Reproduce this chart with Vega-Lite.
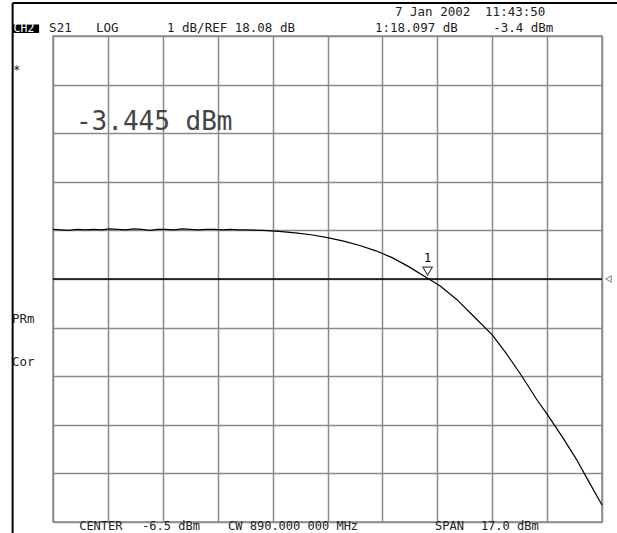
{
  "$schema": "https://vega.github.io/schema/vega-lite/v6.json",
  "width": 549,
  "height": 486,
  "autosize": "none",
  "padding": {"left": 53, "top": 36, "right": 15, "bottom": 11},
  "background": "white",
  "config": {
    "view": {"stroke": "#8a8a8a", "strokeWidth": 1.5},
    "axis": {"domain": false, "ticks": false, "labels": false, "title": null, "grid": true, "gridColor": "#8a8a8a", "gridWidth": 1.5, "gridOpacity": 1}
  },
  "datasets": {
    "trace": [
      {"p": -15.0, "g": 19.10}, {"p": -14.75, "g": 19.09}, {"p": -14.5, "g": 19.08}, {"p": -14.25, "g": 19.10},
      {"p": -14.0, "g": 19.09}, {"p": -13.75, "g": 19.10}, {"p": -13.5, "g": 19.09}, {"p": -13.25, "g": 19.11},
      {"p": -13.0, "g": 19.10}, {"p": -12.75, "g": 19.09}, {"p": -12.5, "g": 19.11}, {"p": -12.25, "g": 19.10},
      {"p": -12.0, "g": 19.08}, {"p": -11.75, "g": 19.10}, {"p": -11.5, "g": 19.10}, {"p": -11.25, "g": 19.09},
      {"p": -11.0, "g": 19.11}, {"p": -10.75, "g": 19.10}, {"p": -10.5, "g": 19.09}, {"p": -10.25, "g": 19.10},
      {"p": -10.0, "g": 19.10}, {"p": -9.75, "g": 19.09}, {"p": -9.5, "g": 19.10}, {"p": -9.25, "g": 19.09},
      {"p": -9.0, "g": 19.09}, {"p": -8.5, "g": 19.08}, {"p": -8.0, "g": 19.06}, {"p": -7.5, "g": 19.03},
      {"p": -7.0, "g": 18.99}, {"p": -6.5, "g": 18.93}, {"p": -6.0, "g": 18.86}, {"p": -5.5, "g": 18.77},
      {"p": -5.0, "g": 18.66}, {"p": -4.5, "g": 18.52}, {"p": -4.0, "g": 18.34}, {"p": -3.4, "g": 18.097},
      {"p": -3.0, "g": 17.93}, {"p": -2.5, "g": 17.66}, {"p": -2.0, "g": 17.33}, {"p": -1.4, "g": 16.93},
      {"p": -1.0, "g": 16.58}, {"p": -0.5, "g": 16.10}, {"p": 0.0, "g": 15.58}, {"p": 0.3, "g": 15.30},
      {"p": 0.8, "g": 14.80}, {"p": 1.2, "g": 14.38}, {"p": 1.6, "g": 13.90}, {"p": 2.0, "g": 13.43}
    ],
    "small": [
      {"p": -15.12, "g": 23.245, "t": "S21"},
      {"p": -13.67, "g": 23.245, "t": "LOG"},
      {"p": -11.47, "g": 23.245, "t": "1 dB/REF 18.08 dB"},
      {"p": -5.03, "g": 23.245, "t": "1:18.097 dB"},
      {"p": -1.37, "g": 23.245, "t": "-3.4 dBm"},
      {"p": -4.41, "g": 23.574, "t": "7 Jan 2002"},
      {"p": -1.62, "g": 23.574, "t": "11:43:50"},
      {"p": -16.24, "g": 22.38, "t": "*"},
      {"p": -16.27, "g": 17.257, "t": "PRm"},
      {"p": -16.27, "g": 16.372, "t": "Cor"}
    ],
    "bottom": [
      {"p": -14.19, "g": 12.998, "t": "CENTER"},
      {"p": -12.24, "g": 12.998, "t": "-6.5 dBm"},
      {"p": -9.58, "g": 12.998, "t": "CW 890.000 000 MHz"},
      {"p": -3.17, "g": 12.998, "t": "SPAN"},
      {"p": -1.75, "g": 12.998, "t": "17.0 dBm"}
    ],
    "frame": [
      {"p": -16.25, "p2": 2.5, "g": 23.759, "g2": 23.759},
      {"p": -16.25, "p2": -16.25, "g": 23.759, "g2": 12.8}
    ]
  },
  "layer": [
    {
      "data": {"name": "trace"},
      "mark": {"type": "line", "color": "black", "strokeWidth": 1.2},
      "encoding": {
        "x": {"field": "p", "type": "quantitative", "scale": {"domain": [-15, 2], "nice": false, "zero": false}, "axis": {"values": [-15, -13.3, -11.6, -9.9, -8.2, -6.5, -4.8, -3.1, -1.4, 0.3, 2]}},
        "y": {"field": "g", "type": "quantitative", "scale": {"domain": [13.08, 23.08], "nice": false, "zero": false}, "axis": {"values": [13.08, 14.08, 15.08, 16.08, 17.08, 18.08, 19.08, 20.08, 21.08, 22.08, 23.08]}}
      }
    },
    {
      "data": {"values": [{"g": 18.08}]},
      "mark": {"type": "rule", "color": "black", "strokeWidth": 1.5},
      "encoding": {"y": {"field": "g", "type": "quantitative"}}
    },
    {
      "data": {"values": [{"p": 2.2, "g": 18.08}]},
      "mark": {"type": "point", "shape": "triangle-left", "filled": false, "color": "#444", "size": 40, "strokeWidth": 1},
      "encoding": {"x": {"field": "p", "type": "quantitative"}, "y": {"field": "g", "type": "quantitative"}}
    },
    {
      "data": {"values": [{"p": -3.4, "g": 18.097, "t": "1"}]},
      "layer": [
        {
          "mark": {"type": "point", "shape": "triangle-down", "filled": false, "color": "black", "size": 90, "strokeWidth": 1.2, "yOffset": -7},
          "encoding": {"x": {"field": "p", "type": "quantitative"}, "y": {"field": "g", "type": "quantitative"}}
        },
        {
          "mark": {"type": "text", "font": "DejaVu Sans Mono", "fontSize": 12, "color": "black", "yOffset": -20},
          "encoding": {"x": {"field": "p", "type": "quantitative"}, "y": {"field": "g", "type": "quantitative"}, "text": {"field": "t"}}
        }
      ]
    },
    {
      "data": {"name": "small"},
      "mark": {"type": "text", "font": "DejaVu Sans Mono", "fontSize": 12.5, "color": "#222", "align": "left", "baseline": "middle"},
      "encoding": {"x": {"field": "p", "type": "quantitative"}, "y": {"field": "g", "type": "quantitative"}, "text": {"field": "t"}}
    },
    {
      "data": {"name": "bottom"},
      "mark": {"type": "text", "font": "DejaVu Sans Mono", "fontSize": 12, "color": "#222", "align": "left", "baseline": "middle"},
      "encoding": {"x": {"field": "p", "type": "quantitative"}, "y": {"field": "g", "type": "quantitative"}, "text": {"field": "t"}}
    },
    {
      "data": {"values": [{"p": -16.27, "p2": -15.43, "g": 23.317, "g2": 23.142}]},
      "mark": {"type": "rect", "color": "black"},
      "encoding": {"x": {"field": "p", "type": "quantitative"}, "x2": {"field": "p2"}, "y": {"field": "g", "type": "quantitative"}, "y2": {"field": "g2"}}
    },
    {
      "data": {"values": [{"p": -16.22, "g": 23.23, "t": "CH2"}]},
      "mark": {"type": "text", "font": "DejaVu Sans Mono", "fontSize": 11.5, "color": "white", "align": "left", "baseline": "middle"},
      "encoding": {"x": {"field": "p", "type": "quantitative"}, "y": {"field": "g", "type": "quantitative"}, "text": {"field": "t"}}
    },
    {
      "data": {"values": [{"p": -14.29, "g": 21.31, "t": "-3.445 dBm"}]},
      "mark": {"type": "text", "font": "DejaVu Sans Mono", "fontSize": 26, "fontWeight": "normal", "color": "#444", "align": "left", "baseline": "middle"},
      "encoding": {"x": {"field": "p", "type": "quantitative"}, "y": {"field": "g", "type": "quantitative"}, "text": {"field": "t"}}
    },
    {
      "data": {"name": "frame"},
      "mark": {"type": "rule", "color": "black", "strokeWidth": 2},
      "encoding": {"x": {"field": "p", "type": "quantitative"}, "x2": {"field": "p2"}, "y": {"field": "g", "type": "quantitative"}, "y2": {"field": "g2"}}
    }
  ]
}
